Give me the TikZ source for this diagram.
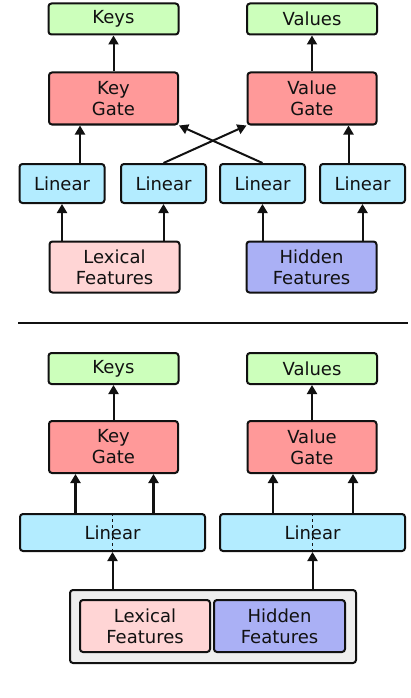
\documentclass[tikz,border=0pt]{standalone}
\usepackage{fontspec}
\setmainfont{DejaVu Sans}
\usetikzlibrary{arrows.meta,positioning}
\definecolor{outgreen}{HTML}{CCFFBB}
\definecolor{gatered}{HTML}{FF9999}
\definecolor{lincyan}{HTML}{B3ECFF}
\definecolor{lexpink}{HTML}{FFD5D5}
\definecolor{hidblue}{HTML}{AAB0F5}
\definecolor{boxgray}{HTML}{EEEEEE}
\definecolor{ink}{HTML}{111111}

\begin{document}
\begin{tikzpicture}[x=1pt,y=-1pt, >={Triangle[length=9pt,width=10pt]},
  box/.style={draw=ink, text=ink, line width=2pt, rounded corners=3pt, align=center,
    inner sep=0pt, font=\fontsize{18}{21}\selectfont},
  outbox/.style={box, fill=outgreen, minimum width=130pt, minimum height=31pt},
  gatebox/.style={box, fill=gatered, minimum width=129pt, minimum height=52pt},
  linbox/.style={box, fill=lincyan, minimum width=85pt, minimum height=39pt},
  featbox/.style={box, minimum width=130pt, minimum height=51pt},
  arr/.style={->, draw=ink, line width=2pt},
  fatarr/.style={->, draw=ink, line width=2.8pt}]
  \useasboundingbox (0,0) rectangle (410,698);
  % top: separate linear layers
  \node[outbox] (keysA) at (113.5,19) {Keys};
  \node[outbox] (valsA) at (312,19) {Values};
  \node[gatebox] (kgateA) at (113.5,98.5) {Key\\Gate};
  \node[gatebox] (vgateA) at (312,98.5) {Value\\Gate};
  \node[linbox] (linA1) at (62,183.5) {Linear};
  \node[linbox] (linA2) at (163.5,183.5) {Linear};
  \node[linbox] (linA3) at (262.5,183.5) {Linear};
  \node[linbox] (linA4) at (362.5,183.5) {Linear};
  \node[featbox, fill=lexpink] (lexA) at (114.5,267) {Lexical\\Features};
  \node[featbox, fill=hidblue] (hidA) at (311.5,267) {Hidden\\Features};
  \draw[arr] (kgateA) -- (keysA);
  \draw[arr] (vgateA) -- (valsA);
  \draw[arr] ([xshift=18pt]linA1.north) -- ([xshift=18pt]linA1.north |- kgateA.south);
  \draw[arr] ([xshift=-14pt]linA4.north) -- ([xshift=-14pt]linA4.north |- vgateA.south);
  \draw[arr] (linA2.north) -- (vgateA.south west);
  \draw[arr] (linA3.north) -- (kgateA.south east);
  \draw[arr] (linA1.south |- lexA.north) -- (linA1.south);
  \draw[arr] (linA2.south |- lexA.north) -- (linA2.south);
  \draw[arr] (linA3.south |- hidA.north) -- (linA3.south);
  \draw[arr] (linA4.south |- hidA.north) -- (linA4.south);

  \draw[draw=ink, line width=2.2pt] (18,323) -- (408,323);

  % bottom: one linear layer over the joint features
  \node[outbox] (keysB) at (113.5,368.5) {Keys};
  \node[outbox] (valsB) at (312,368.5) {Values};
  \node[gatebox] (kgateB) at (113.5,447) {Key\\Gate};
  \node[gatebox] (vgateB) at (312,447) {Value\\Gate};
  \node[linbox, minimum width=185pt, minimum height=37pt] (linB1) at (112.5,532.5) {Linear};
  \node[linbox, minimum width=185pt, minimum height=37pt] (linB2) at (312.5,532.5) {Linear};
  \node[box, fill=boxgray, minimum width=286pt, minimum height=73pt] (feats) at (213,626.5) {};
  \node[featbox, fill=lexpink, minimum height=52pt] (lexB) at (145,626) {Lexical\\Features};
  \node[featbox, fill=hidblue, minimum height=52pt, minimum width=131pt] (hidB) at (279.5,626) {Hidden\\Features};
  \draw[ink, line width=1.4pt, dashed] (linB1.north) -- (linB1.south);
  \draw[ink, line width=1.4pt, dashed] (linB2.north) -- (linB2.south);
  \draw[arr] (kgateB) -- (keysB);
  \draw[arr] (vgateB) -- (valsB);
  \draw[fatarr] ([xshift=-38pt]kgateB.south |- linB1.north) -- ([xshift=-38pt]kgateB.south);
  \draw[fatarr] ([xshift=40pt]kgateB.south |- linB1.north) -- ([xshift=40pt]kgateB.south);
  \draw[fatarr] ([xshift=-39pt]vgateB.south |- linB2.north) -- ([xshift=-39pt]vgateB.south);
  \draw[fatarr] ([xshift=41pt]vgateB.south |- linB2.north) -- ([xshift=41pt]vgateB.south);
  \draw[arr] (linB1.south |- feats.north) -- (linB1.south);
  \draw[arr] (linB2.south |- feats.north) -- (linB2.south);
\end{tikzpicture}
\end{document}
